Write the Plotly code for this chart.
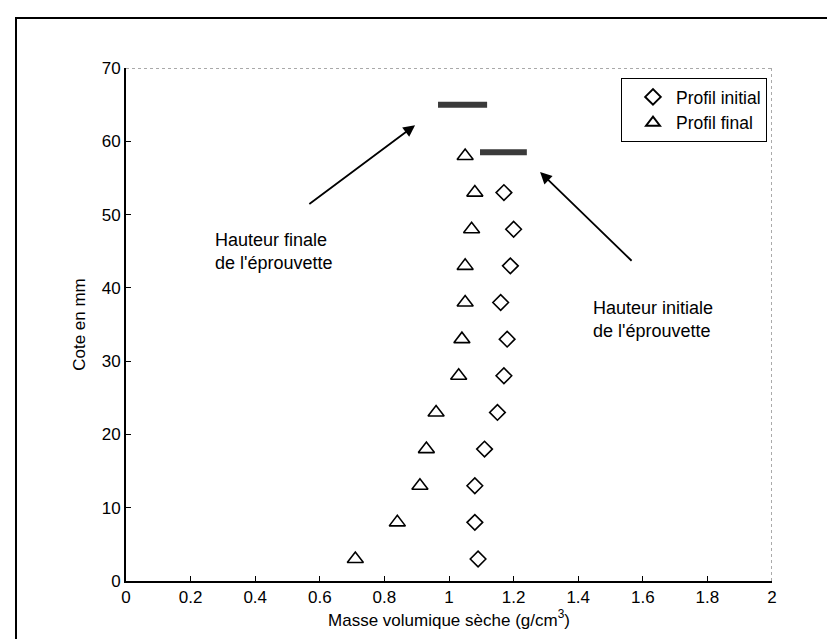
import plotly.graph_objects as go

# Data
heights_initial = [3, 8, 13, 18, 23, 28, 33, 38, 43, 48, 53]
density_initial = [1.09, 1.08, 1.08, 1.11, 1.15, 1.17, 1.18, 1.16, 1.19, 1.20, 1.17]

heights_final = [3, 8, 13, 18, 23, 28, 33, 38, 43, 48, 53, 58]
density_final = [0.71, 0.84, 0.91, 0.93, 0.96, 1.03, 1.04, 1.05, 1.05, 1.07, 1.08, 1.05]

final_height_bar_x = [0.966, 1.118]
final_height_bar_y = [65, 65]
initial_height_bar_x = [1.096, 1.241]
initial_height_bar_y = [58.5, 58.5]

x_ticks = [0, 0.2, 0.4, 0.6, 0.8, 1, 1.2, 1.4, 1.6, 1.8, 2]
y_ticks = [0, 10, 20, 30, 40, 50, 60, 70]

FONT = "Liberation Sans, Arial, sans-serif"

L, R, T, B = 118, 71, 60, 66
W, H = 835, 639
PW, PH = W - L - R, H - T - B


def px_to_paper_x(px):
    return (px - L) / PW


def px_to_paper_y(py):
    return (H - B - py) / PH


fig = go.Figure()

fig.add_trace(go.Scatter(
    x=density_initial, y=heights_initial, mode="markers", name="Profil initial",
    marker=dict(symbol="diamond-open", size=12, color="black", line=dict(width=1.6, color="black")),
))
fig.add_trace(go.Scatter(
    x=density_final, y=heights_final, mode="markers", name="Profil final",
    marker=dict(symbol="triangle-up-open", size=14, color="black", line=dict(width=1.6, color="black")),
))
fig.add_trace(go.Scatter(
    x=final_height_bar_x, y=final_height_bar_y, mode="lines", showlegend=False,
    line=dict(color="#3a3a3a", width=6), hoverinfo="skip",
))
fig.add_trace(go.Scatter(
    x=initial_height_bar_x, y=initial_height_bar_y, mode="lines", showlegend=False,
    line=dict(color="#3a3a3a", width=6), hoverinfo="skip",
))

# Arrows
fig.add_annotation(x=0.895, y=62.2, ax=0.563, ay=51.3, xref="x", yref="y", axref="x", ayref="y",
                   text="", showarrow=True, arrowhead=2, arrowsize=1.3, arrowwidth=1.8, arrowcolor="black")
fig.add_annotation(x=1.282, y=55.8, ax=1.57, ay=43.5, xref="x", yref="y", axref="x", ayref="y",
                   text="", showarrow=True, arrowhead=2, arrowsize=1.3, arrowwidth=1.8, arrowcolor="black")

# Texts
fig.add_annotation(x=0.269, y=45, xref="x", yref="y", text="Hauteur finale<br>de l'éprouvette",
                   showarrow=False, xanchor="left", yanchor="middle", align="left",
                   font=dict(family=FONT, size=18, color="black"))
fig.add_annotation(x=1.44, y=35.7, xref="x", yref="y", text="Hauteur initiale<br>de l'éprouvette",
                   showarrow=False, xanchor="left", yanchor="middle", align="left",
                   font=dict(family=FONT, size=18, color="black"))

# Dotted top and right plot borders
fig.add_shape(type="line", xref="x", yref="y", x0=0, x1=2, y0=70, y1=70,
              line=dict(color="#555555", width=1, dash="dot"))
fig.add_shape(type="line", xref="x", yref="y", x0=2, x1=2, y0=0, y1=70,
              line=dict(color="#555555", width=1, dash="dot"))

# Outer frame
fig.add_shape(type="rect", xref="paper", yref="paper",
              x0=px_to_paper_x(8), x1=px_to_paper_x(831), y0=px_to_paper_y(650), y1=px_to_paper_y(10),
              line=dict(color="black", width=2), fillcolor="rgba(0,0,0,0)", layer="below")

fig.update_xaxes(
    range=[0, 2], tickvals=x_ticks, ticks="inside", ticklen=5, tickcolor="black",
    showline=True, linecolor="black", linewidth=2, showgrid=False, zeroline=False,
    tickfont=dict(family=FONT, size=17, color="black"),
    title=dict(text="Masse volumique sèche (g/cm<sup>3</sup>)", font=dict(family=FONT, size=17, color="black"), standoff=6),
)
fig.update_yaxes(
    range=[0, 70], tickvals=y_ticks, ticks="inside", ticklen=5, tickcolor="black",
    showline=True, linecolor="black", linewidth=2, showgrid=False, zeroline=False,
    tickfont=dict(family=FONT, size=17, color="black"),
    title=dict(text="Cote en mm", font=dict(family=FONT, size=17, color="black"), standoff=12),
)

fig.update_layout(
    width=W, height=H,
    margin=dict(l=L, r=R, t=T, b=B),
    paper_bgcolor="white", plot_bgcolor="white",
    font=dict(family=FONT, color="black"),
    legend=dict(x=px_to_paper_x(759), y=px_to_paper_y(70), xanchor="right", yanchor="top",
                bordercolor="black", borderwidth=1, bgcolor="white",
                font=dict(family=FONT, size=17.5, color="black"),
                indentation=8, itemwidth=36,
                tracegroupgap=0, itemsizing="constant"),
    showlegend=True,
)

fig.write_html("out.html")
